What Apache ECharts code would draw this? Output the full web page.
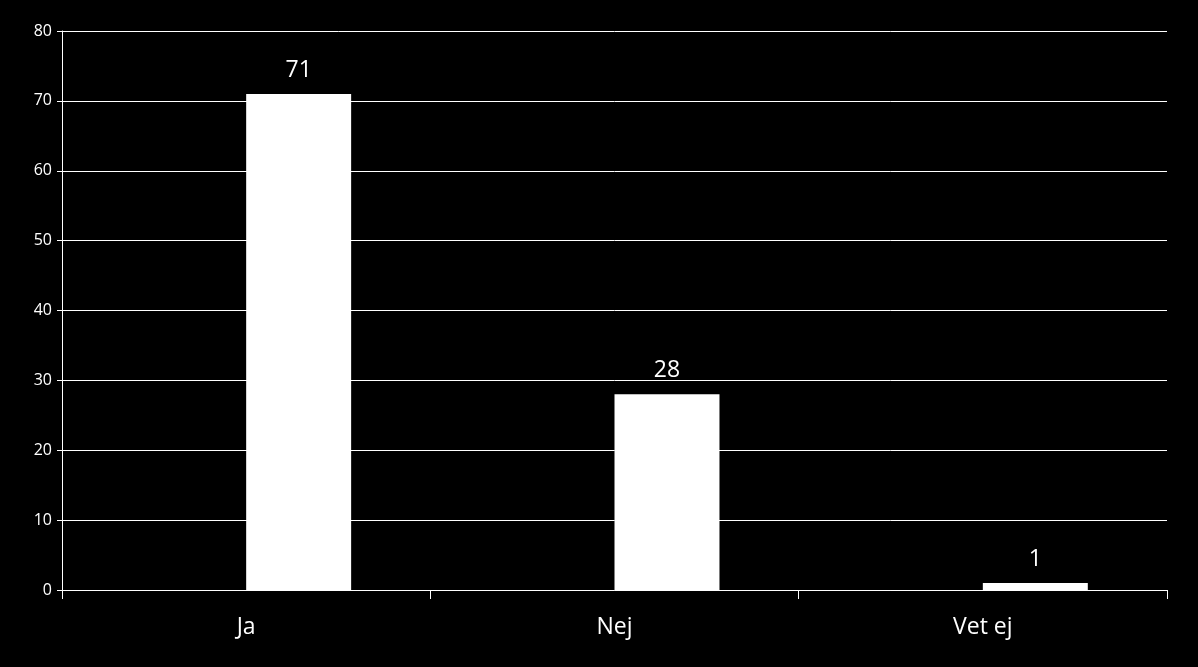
<!DOCTYPE html>
<html>
<head>
<meta charset="utf-8">
<script src="https://cdn.jsdelivr.net/npm/echarts@6/dist/echarts.min.js"></script>
<style>
  html, body { margin: 0; padding: 0; background: #000; }
  #chart { width: 1198px; height: 667px; }
</style>
</head>
<body>
<div id="chart"></div>
<script>
const categories = ["Ja", "Nej", "Vet ej"];
const values = [71, 28, 1];
// empty first series, the bars sit to the right of the category centre
const emptyValues = ["-", "-", "-"];

const chart = echarts.init(document.getElementById("chart"));
const font = "'Open Sans', 'Noto Sans', sans-serif";

chart.setOption({
  backgroundColor: "#000",
  animation: false,
  grid: { left: 62, right: 31, top: 31, bottom: 77 },
  xAxis: {
    type: "category",
    data: categories,
    axisLine: { show: true, lineStyle: { color: "#fff", width: 1 } },
    axisTick: { show: true, length: 9, lineStyle: { color: "#fff" } },
    axisLabel: { color: "#fff", fontSize: 23, fontFamily: font, margin: 26 },
  },
  yAxis: {
    type: "value",
    min: 0,
    max: 80,
    interval: 10,
    axisLine: { show: true, lineStyle: { color: "#fff", width: 1 } },
    axisTick: { show: true, length: 5, lineStyle: { color: "#fff" } },
    axisLabel: { color: "#fff", fontSize: 16, fontFamily: font, margin: 10 },
    splitLine: { show: true, lineStyle: { color: "#fff", width: 1 } },
  },
  series: [
    {
      type: "bar",
      data: emptyValues,
      barWidth: "28.5%",
      barGap: "0%",
      itemStyle: { color: "#000" },
    },
    {
      type: "bar",
      data: values,
      barWidth: "28.5%",
      barGap: "0%",
      itemStyle: { color: "#fff" },
      label: {
        show: true,
        position: "top",
        distance: 12,
        color: "#fff",
        fontSize: 23,
        fontFamily: font,
      },
    },
  ],
});
</script>
</body>
</html>
